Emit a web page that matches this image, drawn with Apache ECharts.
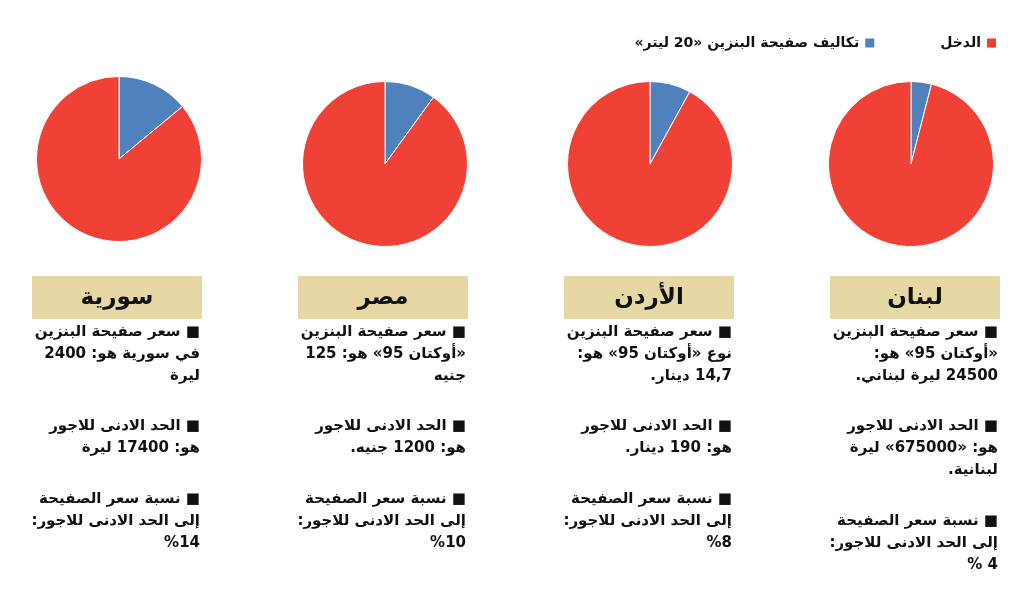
<!DOCTYPE html>
<html>
<head>
<meta charset="utf-8">
<script src="https://cdn.jsdelivr.net/npm/echarts@6.0.0/dist/echarts.min.js"></script>
<style>
    html, body { margin: 0; padding: 0; background: #fff; }
    #chart { width: 1034px; height: 593px; }
</style>
</head>
<body>
<div id="chart" dir="rtl"></div>
<script>
// columns from left to right
var countries = ["سورية", "مصر", "الأردن", "لبنان"];
var legendNames = ["تكاليف صفيحة البنزين «20 ليتر»", "الدخل"];
var fuelShare = [14, 10, 8, 4];
var incomeShare = [86, 90, 92, 96];

// notes under each header, one array of lines per paragraph
var syriaNotes = [
    ["■ سعر صفيحة البنزين", "في سورية هو: 2400", "ليرة"],
    ["■ الحد الادنى للاجور", "هو: 17400 ليرة"],
    ["■ نسبة سعر الصفيحة", "إلى الحد الادنى للاجور:", "%14"]
];
var egyptNotes = [
    ["■ سعر صفيحة البنزين", "«أوكتان 95» هو: 125", "جنيه"],
    ["■ الحد الادنى للاجور", "هو: 1200 جنيه."],
    ["■ نسبة سعر الصفيحة", "إلى الحد الادنى للاجور:", "%10"]
];
var jordanNotes = [
    ["■ سعر صفيحة البنزين", "نوع «أوكتان 95» هو:", "14,7 دينار."],
    ["■ الحد الادنى للاجور", "هو: 190 دينار."],
    ["■ نسبة سعر الصفيحة", "إلى الحد الادنى للاجور:", "%8"]
];
var lebanonNotes = [
    ["■ سعر صفيحة البنزين", "«أوكتان 95» هو:", "24500 ليرة لبناني."],
    ["■ الحد الادنى للاجور", "هو: «675000» ليرة", "لبنانية."],
    ["■ نسبة سعر الصفيحة", "إلى الحد الادنى للاجور:", "4 %"]
];
var notes = [syriaNotes, egyptNotes, jordanNotes, lebanonNotes];

var font = '"DejaVu Sans", sans-serif';
var pieCenters = [[119, 159], [385, 164], [650, 164], [911, 164]];
var boxLefts = [32, 298, 564, 830];
var boxWidth = 170;

function buildPies() {
    var list = [];
    for (var i = 0; i < countries.length; i++) {
        list.push({
            name: countries[i],
            type: "pie",
            center: pieCenters[i],
            radius: 82.5,
            startAngle: 90,
            clockwise: true,
            label: { show: false },
            labelLine: { show: false },
            emphasis: { disabled: true },
            itemStyle: { borderColor: "#fff", borderWidth: 1 },
            data: [
                { name: legendNames[0], value: fuelShare[i] },
                { name: legendNames[1], value: incomeShare[i] }
            ]
        });
    }
    return list;
}

function buildText() {
    var els = [];
    for (var i = 0; i < countries.length; i++) {
        var left = boxLefts[i];
        var right = left + boxWidth;
        els.push({
            type: "rect",
            shape: { x: left, y: 276, width: boxWidth, height: 43 },
            style: { fill: "#e5d8a5" }
        });
        els.push({
            type: "text",
            style: {
                text: countries[i],
                x: left + boxWidth / 2,
                y: 298,
                textAlign: "center",
                textVerticalAlign: "middle",
                font: "bold 23px " + font,
                fill: "#111"
            }
        });
        var y = 332;
        var paras = notes[i];
        for (var p = 0; p < paras.length; p++) {
            for (var l = 0; l < paras[p].length; l++) {
                els.push({
                    type: "text",
                    style: {
                        text: paras[p][l],
                        x: right - 2,
                        y: y,
                        textAlign: "right",
                        textVerticalAlign: "middle",
                        font: "bold 15px " + font,
                        fill: "#111"
                    }
                });
                y += 22;
            }
            y += 28.5; // gap between paragraphs
        }
    }
    return els;
}

var myChart = echarts.init(document.getElementById("chart"), null, { renderer: "canvas" });

var option = {
    animation: false,
    color: ["#4f81bd", "#ef4136"],
    legend: {
        data: legendNames,
        right: 36,
        top: 36,
        padding: 0,
        itemWidth: 11,
        itemHeight: 11,
        itemGap: 64,
        align: "right",
        icon: "rect",
        selectedMode: false,
        textStyle: { fontFamily: font, fontWeight: "bold", fontSize: 14, color: "#111" }
    },
    graphic: buildText(),
    series: buildPies()
};

myChart.setOption(option);
window.addEventListener("resize", myChart.resize);
</script>
</body>
</html>
